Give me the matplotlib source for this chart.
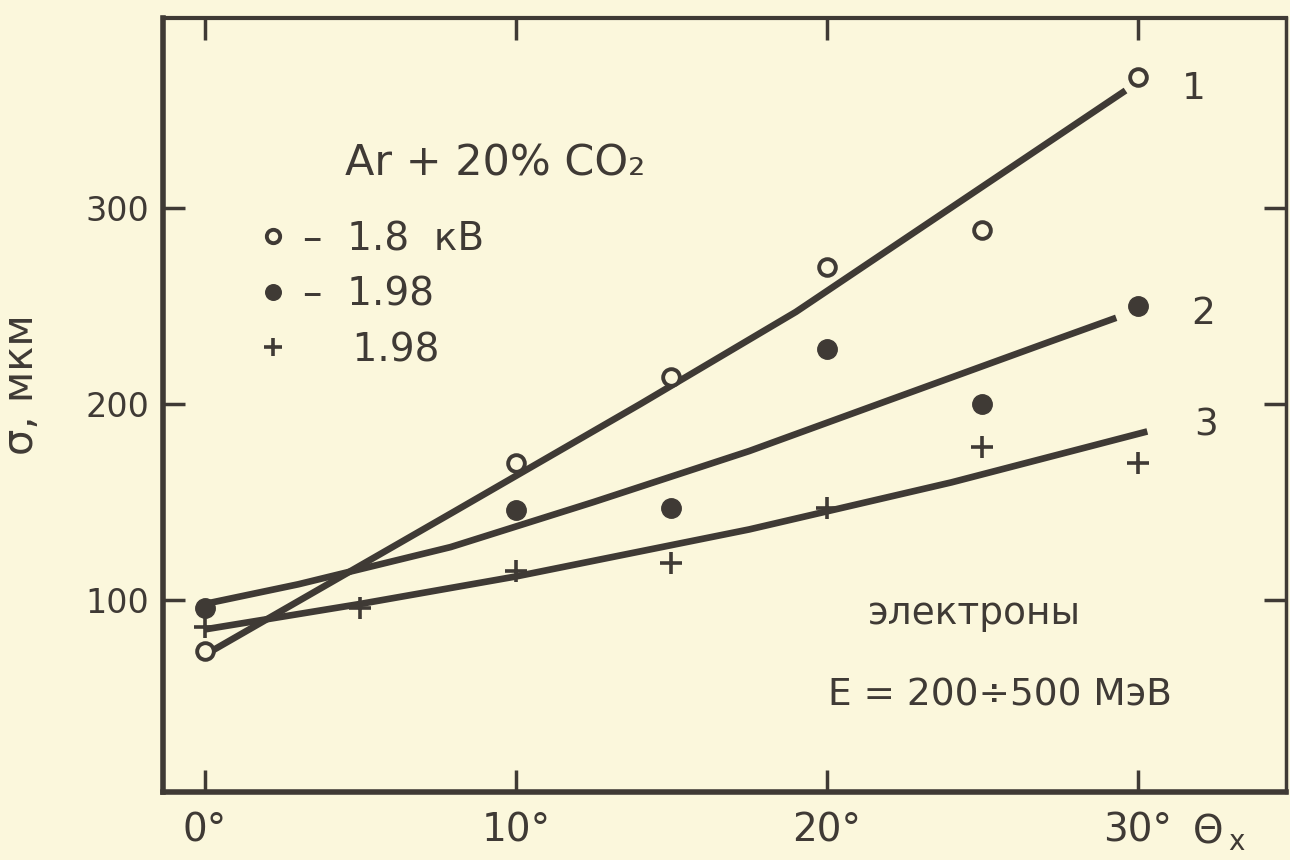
import numpy as np
import matplotlib.pyplot as plt

# %% ------ measured widths vs. angle, Ar + 20% CO2

# angle of incidence [deg]
theta = [0, 10, 15, 20, 25, 30]
theta_plus = [0, 5, 10, 15, 20, 25, 30]

# 1.8 kV (open circles)
sig_18 = [74, 170, 214, 270, 289, 367]
# 1.98 kV (filled circles)
sig_198 = [96, 146, 147, 228, 200, 250]
# 1.98 kV, second set (crosses)
sig_198b = [86, 96, 115, 119, 147, 178, 170]

# hand-drawn curves through the points
fit1_x = [0, 8, 14, 19, 29.6]
fit1_y = [72, 145, 200, 247, 360]
fit2_x = [0, 3, 7.9, 12.5, 17.5, 22, 27.2, 29.3]
fit2_y = [98, 108, 127, 150, 176, 202, 232, 244]
fit3_x = [0, 5, 10, 17.5, 24, 30.3]
fit3_y = [85, 98, 112, 136, 160, 186]

curve_labels = ['1', '2', '3']
curve_lab_x = [31.4, 31.7, 31.8]
curve_lab_y = [361, 246, 189]

xticks = [0, 10, 20, 30]
xticklabels = ['0°', '10°', '20°', '30°']
yticks = [100, 200, 300]

bg = '#fbf7dc'
ink = '#3f3a35'

plt.rcParams['font.family'] = ['DejaVu Sans']

# %% ------ figure
fig = plt.figure(figsize=(12.9, 8.6), dpi=100, facecolor=bg)
ax = fig.add_axes([163/1290, 1-792/860, 1123/1290, 774/860])
ax.set_facecolor(bg)

# curves
for cx, cy in [(fit1_x, fit1_y), (fit2_x, fit2_y), (fit3_x, fit3_y)]:
    ax.plot(cx, cy, color=ink, lw=4.8, solid_capstyle='butt',
            solid_joinstyle='round', zorder=2)

# points
p1, = ax.plot(theta, sig_18, ls='none', marker='o', ms=12, mfc=bg,
              mec=ink, mew=2.8, zorder=3)
p2, = ax.plot(theta, sig_198, ls='none', marker='o', ms=14, mfc=ink,
              mec=ink, zorder=3)
p3, = ax.plot(theta_plus, sig_198b, ls='none', marker='+', ms=16,
              mec=ink, mew=2.6, zorder=3)

for lab, lx, ly in zip(curve_labels, curve_lab_x, curve_lab_y):
    ax.text(lx, ly, lab, fontsize=27, color=ink, ha='left', va='center')

# legend
ax.text(0.162, 0.812, 'Ar + 20% CO₂', transform=ax.transAxes, fontsize=31,
        color=ink, ha='left', va='center')
leg = ax.legend([p1, p2, p3], ['–  1.8  кВ', '–  1.98', '    1.98'],
                loc='upper left', bbox_to_anchor=(0.088, 0.739),
                frameon=False, fontsize=28, handlelength=0.6,
                handletextpad=0.45, labelspacing=0.45, borderpad=0,
                borderaxespad=0, numpoints=1, markerscale=0.8)
for t in leg.get_texts():
    t.set_color(ink)

ax.text(0.628, 0.23, 'электроны', transform=ax.transAxes, fontsize=27,
        color=ink, ha='left', va='center')
ax.text(0.592, 0.125, 'E = 200÷500 МэВ', transform=ax.transAxes,
        fontsize=27, color=ink, ha='left', va='center')

# axes
ax.set_xlim(-1.35, 34.76)
ax.set_ylim(2, 397)
ax.set_xticks(xticks)
ax.set_xticklabels(xticklabels)
ax.set_yticks(yticks)
ax.tick_params(direction='in', length=16, width=2.5, color=ink,
               top=True, right=True, labelcolor=ink)
ax.tick_params(axis='x', labelsize=28, pad=14)
ax.tick_params(axis='y', labelsize=24, pad=10)
for side, w in [('left', 4), ('bottom', 4), ('top', 3), ('right', 2.5)]:
    ax.spines[side].set_linewidth(w)
    ax.spines[side].set_color(ink)

ax.set_ylabel('σ, мкм', fontsize=30, color=ink)
ax.yaxis.set_label_coords(-0.108, 0.526)
fig.text(1193/1290, 1-833/860, 'Θ', fontsize=28, color=ink,
         ha='left', va='center')
fig.text(1228/1290, 1-842/860, 'x', fontsize=20, color=ink,
         ha='left', va='center')

plt.savefig('out.png', dpi=100, facecolor=bg)
